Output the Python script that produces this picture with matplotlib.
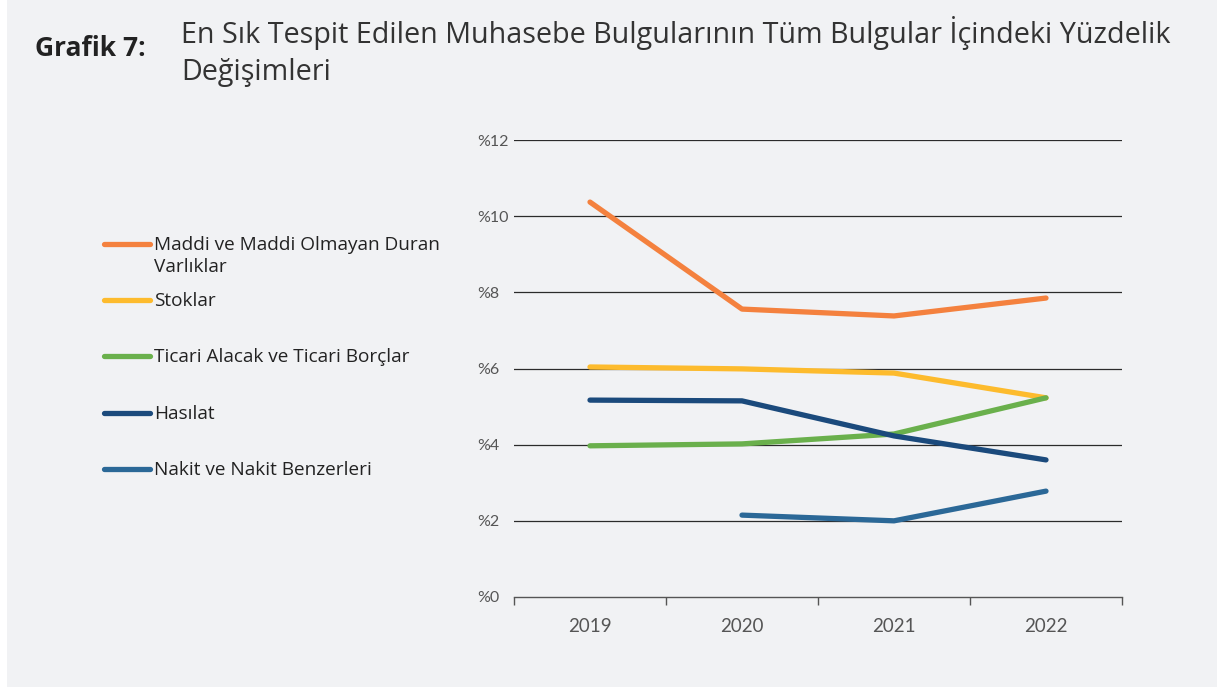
import numpy as np
import matplotlib
matplotlib.use("Agg")
import matplotlib.pyplot as plt
from matplotlib.lines import Line2D

years = ["2019", "2020", "2021", "2022"]
series_names = [
    "Maddi ve Maddi Olmayan Duran\nVarlıklar",
    "Stoklar",
    "Ticari Alacak ve Ticari Borçlar",
    "Hasılat",
    "Nakit ve Nakit Benzerleri",
]
maddi = [10.37, 7.56, 7.38, 7.85]
stoklar = [6.04, 5.99, 5.88, 5.23]
ticari = [3.97, 4.02, 4.28, 5.23]
hasilat = [5.17, 5.15, 4.23, 3.60]
nakit = [np.nan, 2.15, 2.00, 2.78]
colors = ["#F4813E", "#FDBB2D", "#6AB04C", "#1B4A7C", "#2B6897"]
yticks = [0, 2, 4, 6, 8, 10, 12]

bg = "#F1F2F4"
txt_font = "Open Sans"
fig = plt.figure(figsize=(12.17, 6.89), dpi=100, facecolor="white")
# gray panel
fig.patches.append(plt.Rectangle((7 / 1217, 2 / 689), 1, 1, transform=fig.transFigure,
                                 facecolor=bg, edgecolor="none", zorder=-10))

ax = fig.add_axes([514 / 1217, 1 - 597 / 689, 608 / 1217, 457 / 689])
ax.set_facecolor(bg)
x = np.arange(len(years))
for vals, c in zip([maddi, stoklar, ticari, hasilat, nakit], colors):
    ax.plot(x, vals, color=c, lw=3.8, solid_capstyle="round", solid_joinstyle="round", zorder=3)

ax.set_xlim(-0.5, 3.5)
ax.set_ylim(0, 12)
ax.set_yticks(yticks)
ax.set_yticklabels(["%" + str(v) for v in yticks], fontsize=11.5, color="#555555", family="Lato")
ax.set_xticks(x)
ax.set_xticklabels(years, fontsize=13.5, color="#555555", family="Lato")
ax.set_xticks(np.arange(-0.5, 4, 1), minor=True)
ax.tick_params(axis="x", which="major", length=0, pad=15)
ax.tick_params(axis="x", which="minor", length=6, color="#555555", width=1)
for v in yticks[1:]:
    ax.axhline(v, color="#2b2b2b", lw=0.9, zorder=1)
for s in ["top", "right", "left"]:
    ax.spines[s].set_visible(False)
ax.spines["bottom"].set_color("#555555")
ax.spines["bottom"].set_linewidth(1)
for lab in ax.get_yticklabels():
    lab.set_horizontalalignment("left")
ax.tick_params(axis="y", length=0, pad=26.5)

# legend drawn by hand
leg_y = [244, 300, 356, 413, 469]
for name, c, yp in zip(series_names, colors, leg_y):
    yf = 1 - yp / 689
    fig.add_artist(Line2D([104 / 1217, 150 / 1217], [yf, yf], transform=fig.transFigure,
                          color=c, lw=3.8, solid_capstyle="round"))
    fig.text(154 / 1217, yf + 8 / 689, name, fontsize=13.7, color="#222222", family=txt_font,
             va="top", ha="left", linespacing=1.3)

fig.text(35 / 1217, 1 - 49 / 689, "Grafik 7:", fontsize=19, fontweight="bold",
         color="#222222", family=txt_font, va="center", ha="left")
fig.text(181 / 1217, 1 - 16 / 689,
         "En Sık Tespit Edilen Muhasebe Bulgularının Tüm Bulgular İçindeki Yüzdelik\nDeğişimleri",
         fontsize=20.7, color="#333333", family=txt_font, va="top", ha="left", linespacing=1.38)

fig.savefig("out.png", dpi=100, facecolor=fig.get_facecolor())
